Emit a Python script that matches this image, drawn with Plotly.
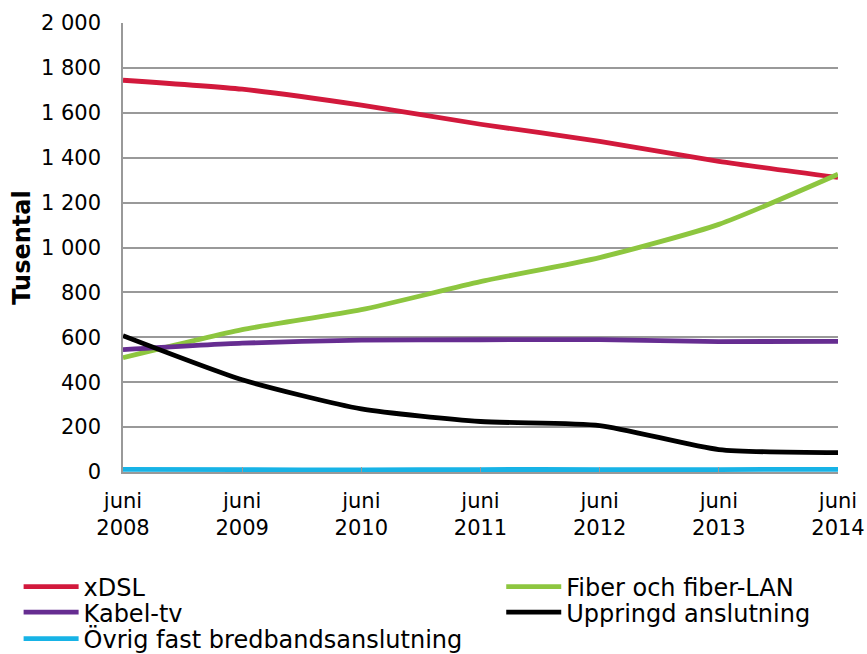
import plotly.graph_objects as go

years = ["juni<br>2008", "juni<br>2009", "juni<br>2010", "juni<br>2011", "juni<br>2012", "juni<br>2013", "juni<br>2014"]
xdsl = [1745, 1705, 1634, 1549, 1473, 1384, 1312]
fiber = [509, 634, 723, 848, 955, 1103, 1326]
kabel = [545, 574, 587, 589, 590, 581, 582]
uppringd = [607, 411, 281, 225, 207, 100, 86]
ovrig = [12, 11, 9, 11, 11, 11, 12]

series = [
    ("xDSL", xdsl, "#D2193C", "legend"),
    ("Fiber och fiber-LAN", fiber, "#8DC63F", "legend2"),
    ("Kabel-tv", kabel, "#662D91", "legend3"),
    ("Uppringd anslutning", uppringd, "#000000", "legend4"),
    ("Övrig fast bredbandsanslutning", ovrig, "#17B3E6", "legend5"),
]

font_family = "DejaVu Sans, Verdana, sans-serif"

fig = go.Figure()
for name, vals, color, leg in series:
    fig.add_trace(go.Scatter(
        x=list(range(len(years))), y=vals, name=name, mode="lines",
        line=dict(color=color, width=4.8, shape="spline", smoothing=0.6),
        legend=leg,
    ))

y_ticks = list(range(0, 2001, 200))
y_text = [f"{v:,}".replace(",", " ") for v in y_ticks]

def leg(x, y):
    return dict(
        orientation="v", x=x, xanchor="left", y=y, yanchor="middle",
        font=dict(family=font_family, size=24, color="#000000"),
        itemwidth=55, bgcolor="rgba(0,0,0,0)", borderwidth=0,
    )

fig.update_layout(
    width=867, height=654,
    margin=dict(l=123, r=29, t=23, b=182, autoexpand=False),
    plot_bgcolor="white", paper_bgcolor="white",
    font=dict(family=font_family, size=20, color="#000000"),
    showlegend=True,
    legend=leg(-0.146, -0.256),
    legend2=leg(0.529, -0.256),
    legend3=leg(-0.146, -0.313),
    legend4=leg(0.529, -0.313),
    legend5=leg(-0.146, -0.372),
    xaxis=dict(
        range=[0, 6], tickmode="array", tickvals=list(range(len(years))), ticktext=years,
        showgrid=False, showline=True, linecolor="#999999", linewidth=1.5,
        ticks="inside", ticklen=5, tickcolor="#999999",
        zeroline=False, tickfont=dict(size=21), ticklabelstandoff=9,
        automargin=False,
    ),
    yaxis=dict(
        range=[0, 2000], tickmode="array", tickvals=y_ticks, ticktext=y_text,
        showgrid=True, gridcolor="#999999", gridwidth=1.5,
        showline=True, linecolor="#999999", linewidth=1.5,
        zeroline=False, ticks="", ticklabelstandoff=16,
        tickfont=dict(size=21), automargin=False,
        title=dict(text="<b>Tusental</b>", font=dict(size=24), standoff=4),
    ),
)

fig.write_html(
    "out.html",
    config={"displayModeBar": False},
    post_script="document.body.style.margin='0';document.body.style.overflow='hidden';",
)
